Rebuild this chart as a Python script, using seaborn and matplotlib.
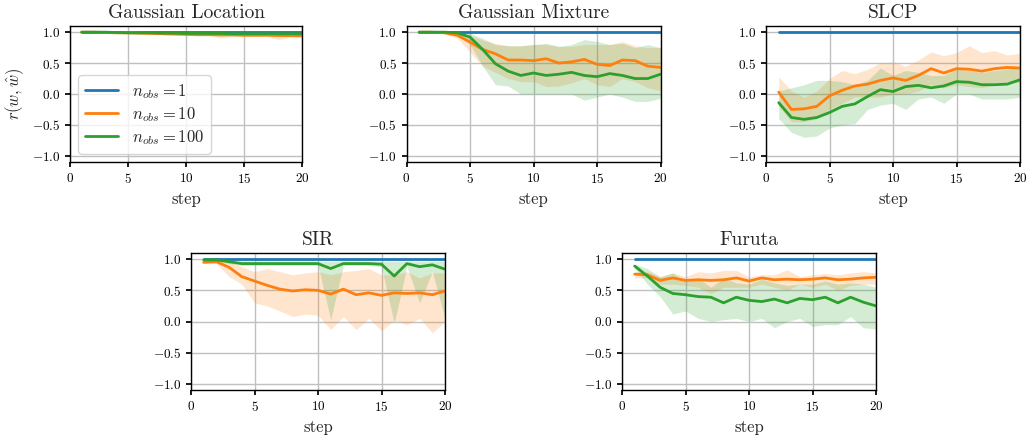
import numpy as np
import pandas as pd
import matplotlib
matplotlib.use("Agg")
import matplotlib.pyplot as plt
import seaborn as sns

steps = list(range(1, 21))
titles = ["Gaussian Location", "Gaussian Mixture", "SLCP", "SIR", "Furuta"]
series_labels = [r"$n_{obs} = 1$", r"$n_{obs} = 10$", r"$n_{obs} = 100$"]
xticks = [0, 5, 10, 15, 20]
yticks = [-1.0, -0.5, 0.0, 0.5, 1.0]

# n_obs = 1 is constant 1.0 everywhere
blue_vals = [1.0] * 20

# Gaussian Location
gl_orange = [1.0, 1.0, 0.995, 0.99, 0.99, 0.985, 0.98, 0.975, 0.97, 0.965,
             0.96, 0.96, 0.955, 0.955, 0.95, 0.95, 0.95, 0.945, 0.945, 0.94]
gl_orange_lo = [0.99, 0.99, 0.98, 0.975, 0.97, 0.965, 0.96, 0.955, 0.95, 0.945,
                0.94, 0.94, 0.91, 0.935, 0.93, 0.93, 0.93, 0.88, 0.92, 0.92]
gl_orange_hi = [1.0, 1.0, 1.0, 1.0, 1.0, 1.0, 0.995, 0.99, 0.99, 0.985,
                0.98, 0.98, 0.975, 0.975, 0.97, 0.97, 0.97, 0.97, 0.965, 0.96]
gl_green = [1.0, 1.0, 1.0, 0.995, 0.99, 0.99, 0.99, 0.985, 0.985, 0.98,
            0.98, 0.98, 0.98, 0.975, 0.975, 0.975, 0.975, 0.975, 0.975, 0.975]
gl_green_lo = [0.995, 0.995, 0.99, 0.985, 0.98, 0.98, 0.98, 0.975, 0.975, 0.97,
               0.97, 0.97, 0.97, 0.965, 0.965, 0.965, 0.965, 0.965, 0.965, 0.965]
gl_green_hi = [1.0] * 20

# Gaussian Mixture
gm_orange = [1.0, 1.0, 0.99, 0.95, 0.84, 0.72, 0.65, 0.55, 0.55, 0.54,
             0.57, 0.50, 0.52, 0.56, 0.48, 0.46, 0.55, 0.54, 0.45, 0.43]
gm_orange_lo = [1.0, 1.0, 0.97, 0.90, 0.68, 0.45, 0.35, 0.25, 0.20, 0.20,
                0.12, 0.13, 0.18, 0.25, 0.15, 0.12, 0.25, 0.20, 0.10, 0.05]
gm_orange_hi = [1.0, 1.0, 1.0, 0.99, 0.95, 0.87, 0.82, 0.78, 0.78, 0.80,
                0.80, 0.77, 0.77, 0.80, 0.80, 0.80, 0.85, 0.78, 0.75, 0.75]
gm_green = [1.0, 1.0, 1.0, 0.99, 0.92, 0.72, 0.49, 0.37, 0.30, 0.34,
            0.30, 0.32, 0.35, 0.30, 0.28, 0.33, 0.30, 0.25, 0.25, 0.32]
gm_green_lo = [1.0, 1.0, 1.0, 0.98, 0.80, 0.45, 0.15, 0.13, 0.0, 0.0,
               0.0, 0.0, 0.0, -0.10, -0.05, 0.0, -0.05, -0.12, -0.12, -0.07]
gm_green_hi = [1.0, 1.0, 1.0, 1.0, 0.98, 0.90, 0.80, 0.78, 0.78, 0.80,
               0.82, 0.77, 0.80, 0.88, 0.85, 0.80, 0.82, 0.75, 0.80, 0.75]

# SLCP
sl_orange = [0.03, -0.25, -0.24, -0.20, -0.03, 0.06, 0.13, 0.16, 0.22, 0.26,
             0.22, 0.30, 0.41, 0.34, 0.41, 0.40, 0.37, 0.41, 0.43, 0.42]
sl_orange_lo = [-0.20, -0.45, -0.45, -0.40, -0.25, -0.15, -0.05, -0.05, -0.05, 0.0,
                0.0, 0.05, 0.15, 0.10, 0.15, 0.12, 0.10, 0.15, 0.20, 0.18]
sl_orange_hi = [0.28, 0.05, -0.05, 0.05, 0.25, 0.38, 0.33, 0.40, 0.50, 0.52,
                0.45, 0.55, 0.68, 0.62, 0.67, 0.78, 0.67, 0.70, 0.63, 0.66]
sl_green = [-0.14, -0.38, -0.41, -0.38, -0.30, -0.20, -0.16, -0.04, 0.07, 0.04,
            0.12, 0.14, 0.10, 0.13, 0.20, 0.19, 0.15, 0.15, 0.16, 0.23]
sl_green_lo = [-0.40, -0.62, -0.70, -0.68, -0.55, -0.50, -0.48, -0.25, -0.18, -0.15,
               -0.25, -0.08, -0.05, -0.15, 0.0, 0.0, -0.08, -0.08, -0.08, -0.05]
sl_green_hi = [0.05, 0.10, 0.15, 0.22, 0.22, 0.20, 0.15, 0.22, 0.42, 0.30,
               0.38, 0.35, 0.30, 0.30, 0.40, 0.38, 0.35, 0.38, 0.40, 0.45]

# SIR
si_orange = [0.95, 0.96, 0.87, 0.72, 0.65, 0.58, 0.52, 0.49, 0.51, 0.50,
             0.44, 0.52, 0.43, 0.46, 0.42, 0.46, 0.45, 0.46, 0.43, 0.49]
si_orange_lo = [0.93, 0.93, 0.72, 0.60, 0.30, 0.25, 0.17, 0.08, 0.12, 0.10,
                -0.13, 0.08, -0.13, 0.05, -0.15, 0.02, -0.05, 0.05, -0.18, 0.0]
si_orange_hi = [0.97, 0.98, 0.96, 0.88, 0.80, 0.85, 0.80, 0.75, 0.78, 0.80,
                0.75, 0.80, 0.82, 0.85, 0.75, 0.75, 0.80, 0.70, 0.78, 0.78]
si_green = [0.99, 0.99, 0.96, 0.93, 0.93, 0.93, 0.93, 0.93, 0.93, 0.93,
            0.85, 0.93, 0.93, 0.93, 0.92, 0.73, 0.93, 0.88, 0.91, 0.84]
si_green_lo = [0.98, 0.97, 0.93, 0.90, 0.90, 0.90, 0.90, 0.90, 0.90, 0.90,
               0.03, 0.90, 0.90, 0.90, 0.88, -0.03, 0.88, 0.30, 0.80, 0.05]
si_green_hi = [1.0, 1.0, 0.99, 0.97, 0.97, 0.97, 0.97, 0.97, 0.97, 0.97,
               0.97, 0.97, 0.97, 0.97, 0.97, 0.97, 0.97, 0.97, 0.97, 0.97]

# Furuta
fu_orange = [0.76, 0.75, 0.66, 0.70, 0.66, 0.67, 0.66, 0.67, 0.70, 0.65,
             0.70, 0.67, 0.68, 0.67, 0.68, 0.70, 0.67, 0.68, 0.70, 0.71]
fu_orange_lo = [0.70, 0.70, 0.60, 0.60, 0.58, 0.55, 0.45, 0.55, 0.55, 0.55,
                0.60, 0.55, 0.50, 0.60, 0.55, 0.60, 0.50, 0.58, 0.60, 0.60]
fu_orange_hi = [0.80, 0.80, 0.72, 0.78, 0.72, 0.80, 0.78, 0.82, 0.82, 0.72,
                0.75, 0.75, 0.83, 0.72, 0.75, 0.77, 0.75, 0.78, 0.80, 0.78]
fu_green = [0.89, 0.73, 0.55, 0.45, 0.43, 0.40, 0.39, 0.30, 0.39, 0.34,
            0.32, 0.36, 0.30, 0.37, 0.35, 0.39, 0.30, 0.39, 0.31, 0.25]
fu_green_lo = [0.85, 0.60, 0.40, 0.12, 0.17, 0.05, 0.0, 0.03, 0.05, 0.0,
               0.05, -0.10, 0.0, 0.05, -0.08, -0.05, -0.05, 0.08, -0.10, -0.12]
fu_green_hi = [0.92, 0.85, 0.72, 0.78, 0.65, 0.70, 0.55, 0.70, 0.62, 0.60,
               0.68, 0.62, 0.58, 0.60, 0.60, 0.65, 0.60, 0.62, 0.60, 0.55]

panels = [
    (gl_orange, gl_orange_lo, gl_orange_hi, gl_green, gl_green_lo, gl_green_hi),
    (gm_orange, gm_orange_lo, gm_orange_hi, gm_green, gm_green_lo, gm_green_hi),
    (sl_orange, sl_orange_lo, sl_orange_hi, sl_green, sl_green_lo, sl_green_hi),
    (si_orange, si_orange_lo, si_orange_hi, si_green, si_green_lo, si_green_hi),
    (fu_orange, fu_orange_lo, fu_orange_hi, fu_green, fu_green_lo, fu_green_hi),
]

sns.set_theme(style="ticks")
plt.rcParams.update({
    "font.family": "serif",
    "font.serif": ["cmr10", "DejaVu Serif"],
    "mathtext.fontset": "cm",
    "axes.formatter.use_mathtext": True,
    "axes.edgecolor": "black",
    "axes.linewidth": 1.0,
    "xtick.color": "black",
    "ytick.color": "black",
    "xtick.major.size": 3.5,
    "ytick.major.size": 3.5,
    "axes.grid": True,
    "grid.color": "#c0c0c0",
    "grid.linewidth": 1.0,
    "axes.unicode_minus": True,
})

palette = sns.color_palette("tab10")[:3]

fig = plt.figure(figsize=(10.26, 4.37), dpi=100)
W, H = 1026.0, 437.0
rects = [
    (70, 26, 232, 136),
    (406.5, 26, 254, 136),
    (766, 26, 254, 136),
    (191, 253, 254, 137),
    (622, 253, 254, 137),
]

for i, (title, data, r) in enumerate(zip(titles, panels, rects)):
    x0, y0, w, h = r
    ax = fig.add_axes([x0 / W, 1 - (y0 + h) / H, w / W, h / H])
    o, olo, ohi, g, glo, ghi = data
    df = pd.DataFrame({
        "step": steps * 3,
        "r": blue_vals + list(o) + list(g),
        "series": [series_labels[0]] * 20 + [series_labels[1]] * 20 + [series_labels[2]] * 20,
    })
    ax.fill_between(steps, olo, ohi, color=palette[1], alpha=0.2, linewidth=0)
    ax.fill_between(steps, glo, ghi, color=palette[2], alpha=0.2, linewidth=0)
    sns.lineplot(data=df, x="step", y="r", hue="series", hue_order=series_labels,
                 palette=palette, linewidth=2, ax=ax, legend=(i == 0), errorbar=None)
    ax.set_xlim(0, 20)
    ax.set_ylim(-1.1, 1.1)
    ax.set_xticks(xticks)
    ax.set_yticks(yticks)
    ax.tick_params(labelsize=9.5)
    ax.set_title(title, fontsize=14)
    ax.set_xlabel("step", fontsize=12)
    if i == 0:
        ax.set_ylabel(r"$r(w, \hat{w})$", fontsize=12)
        ax.legend(loc="lower left", fontsize=12, frameon=True, handlelength=2.0,
                  labelspacing=0.25, edgecolor="#cccccc", framealpha=0.8,
                  borderaxespad=0.5)
    else:
        ax.set_ylabel("")
    for s in ax.spines.values():
        s.set_visible(True)
        s.set_color("black")

fig.savefig("out.png", dpi=100)
